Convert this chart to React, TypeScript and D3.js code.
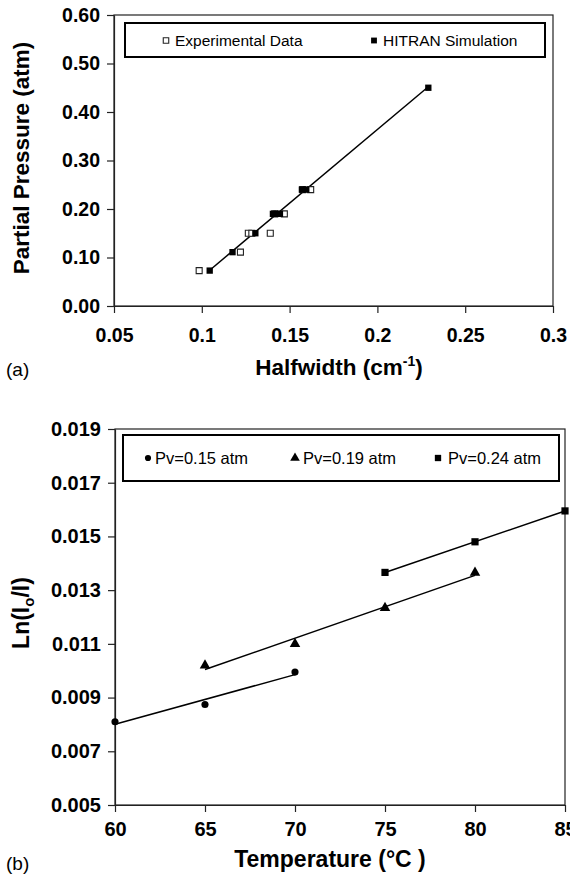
import { useRef, useEffect } from 'react';
import * as d3 from 'd3';

// panel (a)
const halfwidthTicks = [0.05, 0.1, 0.15, 0.2, 0.25, 0.3];
const pressureTicks = [0, 0.1, 0.2, 0.3, 0.4, 0.5, 0.6];
const expHalfwidth = [0.0985, 0.122, 0.1265, 0.1285, 0.139, 0.1415, 0.147, 0.1575, 0.162];
const expPressure = [0.073, 0.111, 0.15, 0.15, 0.15, 0.19, 0.19, 0.24, 0.24];
const hitranHalfwidth = [0.1045, 0.1175, 0.1305, 0.1405, 0.1425, 0.1445, 0.157, 0.1595, 0.229];
const hitranPressure = [0.073, 0.111, 0.15, 0.19, 0.19, 0.19, 0.24, 0.24, 0.45];

// panel (b)
const tempTicks = [60, 65, 70, 75, 80, 85];
const lnTicks = [0.005, 0.007, 0.009, 0.011, 0.013, 0.015, 0.017, 0.019];
const temp015 = [60, 65, 70];
const ln015 = [0.0081, 0.00874, 0.00995];
const temp019 = [65, 70, 75, 80];
const ln019 = [0.0102, 0.011, 0.01234, 0.01365];
const temp024 = [75, 80, 85];
const ln024 = [0.01366, 0.0148, 0.01595];

const FONT = "'Liberation Sans', Arial, Helvetica, sans-serif";

// least squares trendline between min and max x
function fit(xs: number[], ys: number[]) {
    const mx = d3.mean(xs)!;
    const my = d3.mean(ys)!;
    const sxy = d3.sum(xs, (x, i) => (x - mx) * (ys[i] - my));
    const sxx = d3.sum(xs, x => (x - mx) ** 2);
    const b = sxy / sxx;
    const a = my - b * mx;
    const [x0, x1] = d3.extent(xs) as [number, number];
    return [[x0, a + b * x0], [x1, a + b * x1]] as [number, number][];
}

function App() {
    const ref = useRef<SVGSVGElement>(null);

    useEffect(() => {
        const svg = d3.select(ref.current);
        svg.selectAll('*').remove();
        svg.append('rect').attr('width', 570).attr('height', 876).attr('fill', '#fff');

        const styleAxis = (g: any, size: number) => {
            g.selectAll('.domain').attr('stroke', '#222').attr('stroke-width', 1.2);
            g.selectAll('.tick line').attr('stroke', '#222').attr('stroke-width', 1.2);
            g.selectAll('.tick text')
                .attr('fill', '#000')
                .style('font-family', FONT)
                .style('font-weight', 'bold')
                .style('font-size', size + 'px');
        };

        // ---------- panel (a) ----------
        const xA = d3.scaleLinear().domain([0.05, 0.3]).range([114, 553]);
        const yA = d3.scaleLinear().domain([0, 0.6]).range([306, 15]);
        const gA = svg.append('g');

        gA.append('rect')
            .attr('x', 114).attr('y', 15).attr('width', 553 - 114).attr('height', 306 - 15)
            .attr('fill', 'none').attr('stroke', '#222').attr('stroke-width', 1.2);

        gA.append('g')
            .attr('transform', 'translate(0,306)')
            .call(d3.axisBottom(xA).tickValues(halfwidthTicks).tickSize(7).tickSizeOuter(0).tickPadding(15)
                .tickFormat(d => String(d)))
            .call(g => styleAxis(g, 19.5));

        gA.append('g')
            .attr('transform', 'translate(114,0)')
            .call(d3.axisLeft(yA).tickValues(pressureTicks).tickSize(7).tickSizeOuter(0).tickPadding(7)
                .tickFormat(d3.format('.2f')))
            .call(g => styleAxis(g, 19.5));

        const lineA = fit(hitranHalfwidth, hitranPressure);
        gA.append('path')
            .attr('d', d3.line()(lineA.map(([x, y]) => [xA(x), yA(y)])))
            .attr('stroke', '#000').attr('stroke-width', 1.5).attr('fill', 'none');

        const sq = d3.symbol().type(d3.symbolSquare);
        gA.selectAll('.exp')
            .data(expHalfwidth)
            .enter()
            .append('path')
            .attr('d', sq.size(36)())
            .attr('transform', (d, i) => `translate(${xA(d)},${yA(expPressure[i])})`)
            .attr('fill', '#fff').attr('stroke', '#222').attr('stroke-width', 1.1);

        gA.selectAll('.hit')
            .data(hitranHalfwidth)
            .enter()
            .append('path')
            .attr('d', sq.size(40)())
            .attr('transform', (d, i) => `translate(${xA(d)},${yA(hitranPressure[i])})`)
            .attr('fill', '#000');

        // legend (a)
        gA.append('rect')
            .attr('x', 125).attr('y', 23).attr('width', 420).attr('height', 34)
            .attr('fill', '#fff').attr('stroke', '#000').attr('stroke-width', 2);
        gA.append('path').attr('d', sq.size(30)()).attr('transform', 'translate(166,40.5)')
            .attr('fill', '#fff').attr('stroke', '#222').attr('stroke-width', 1.1);
        gA.append('text').attr('x', 175).attr('y', 46).text('Experimental Data')
            .style('font-family', FONT).style('font-size', '15.5px');
        gA.append('path').attr('d', sq.size(34)()).attr('transform', 'translate(374,40.5)').attr('fill', '#000');
        gA.append('text').attr('x', 383).attr('y', 46).text('HITRAN Simulation')
            .style('font-family', FONT).style('font-size', '15.5px');

        // titles (a)
        const tA = gA.append('text').attr('x', 339).attr('y', 375).attr('text-anchor', 'middle')
            .style('font-family', FONT).style('font-weight', 'bold').style('font-size', '22.5px');
        tA.append('tspan').text('Halfwidth (cm');
        tA.append('tspan').attr('dy', -9).style('font-size', '14px').text('-1');
        tA.append('tspan').attr('dy', 9).text(')');

        gA.append('text').attr('transform', 'translate(29,158) rotate(-90)').attr('text-anchor', 'middle')
            .text('Partial Pressure (atm)')
            .style('font-family', FONT).style('font-weight', 'bold').style('font-size', '22.5px');

        gA.append('text').attr('x', 6).attr('y', 376).text('(a)')
            .style('font-family', FONT).style('font-size', '19px');

        // ---------- panel (b) ----------
        const xB = d3.scaleLinear().domain([60, 85]).range([115, 565]);
        const yB = d3.scaleLinear().domain([0.005, 0.019]).range([805, 429]);
        const gB = svg.append('g');

        gB.append('rect')
            .attr('x', 115).attr('y', 429).attr('width', 565 - 115).attr('height', 805 - 429)
            .attr('fill', 'none').attr('stroke', '#222').attr('stroke-width', 1.2);

        gB.append('g')
            .attr('transform', 'translate(0,805)')
            .call(d3.axisBottom(xB).tickValues(tempTicks).tickSize(7).tickSizeOuter(0).tickPadding(10)
                .tickFormat(d3.format('d')))
            .call(g => styleAxis(g, 20));

        gB.append('g')
            .attr('transform', 'translate(115,0)')
            .call(d3.axisLeft(yB).tickValues(lnTicks).tickSize(7).tickSizeOuter(0).tickPadding(7)
                .tickFormat(d3.format('.3f')))
            .call(g => styleAxis(g, 20));

        const series = [
            { t: temp015, v: ln015, shape: d3.symbolCircle, size: 40 },
            { t: temp019, v: ln019, shape: d3.symbolTriangle, size: 48 },
            { t: temp024, v: ln024, shape: d3.symbolSquare, size: 52 },
        ];

        series.forEach(s => {
            const ln = fit(s.t, s.v);
            gB.append('path')
                .attr('d', d3.line()(ln.map(([x, y]) => [xB(x), yB(y)])))
                .attr('stroke', '#000').attr('stroke-width', 1.5).attr('fill', 'none');
            gB.selectAll(null)
                .data(s.t)
                .enter()
                .append('path')
                .attr('d', d3.symbol().type(s.shape).size(s.size)())
                .attr('transform', (d, i) => `translate(${xB(d)},${yB(s.v[i])})`)
                .attr('fill', '#000');
        });

        // legend (b)
        gB.append('rect')
            .attr('x', 123).attr('y', 435).attr('width', 436).attr('height', 46)
            .attr('fill', '#fff').attr('stroke', '#000').attr('stroke-width', 2);
        const legB = [
            { label: 'Pv=0.15 atm', shape: d3.symbolCircle, size: 30, mx: 148, tx: 155 },
            { label: 'Pv=0.19 atm', shape: d3.symbolTriangle, size: 40, mx: 295, tx: 303 },
            { label: 'Pv=0.24 atm', shape: d3.symbolSquare, size: 40, mx: 438, tx: 448 },
        ];
        legB.forEach(l => {
            gB.append('path').attr('d', d3.symbol().type(l.shape).size(l.size)())
                .attr('transform', `translate(${l.mx},458)`).attr('fill', '#000');
            gB.append('text').attr('x', l.tx).attr('y', 464).text(l.label)
                .style('font-family', FONT).style('font-size', '16.5px');
        });

        // titles (b)
        gB.append('text').attr('x', 330).attr('y', 867).attr('text-anchor', 'middle')
            .text('Temperature (°C )')
            .style('font-family', FONT).style('font-weight', 'bold').style('font-size', '23px');

        const tB = gB.append('text').attr('transform', 'translate(29,613) rotate(-90)').attr('text-anchor', 'middle')
            .style('font-family', FONT).style('font-weight', 'bold').style('font-size', '23px');
        tB.append('tspan').text('Ln(I');
        tB.append('tspan').attr('dy', 5).style('font-size', '15px').text('o');
        tB.append('tspan').attr('dy', -5).text('/I)');

        gB.append('text').attr('x', 6).attr('y', 870).text('(b)')
            .style('font-family', FONT).style('font-size', '19px');
    }, []);

    return <svg ref={ref} width={570} height={876} style={{ position: 'absolute', left: 0, top: 0, display: 'block' }} />;
}

export default App;
